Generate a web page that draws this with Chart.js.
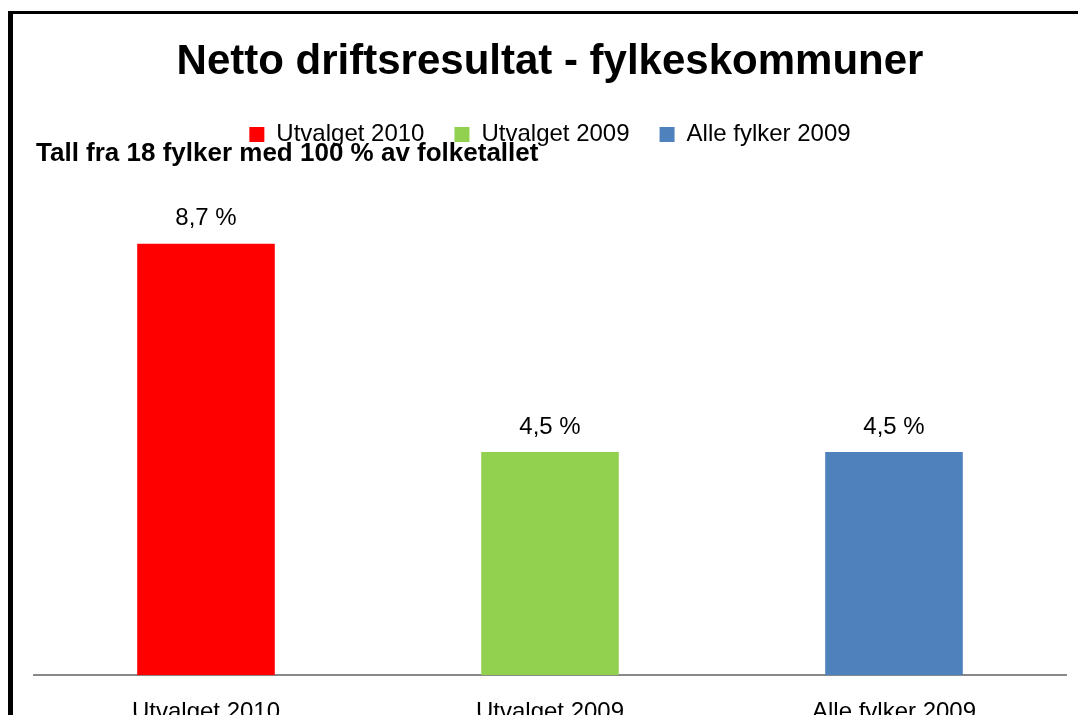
<!DOCTYPE html>
<html>
<head>
<meta charset="utf-8">
<script src="https://cdn.jsdelivr.net/npm/chart.js@4"></script>
<style>
  html, body { margin: 0; padding: 0; background: #fff; overflow: hidden; }
  .wrap { position: relative; width: 1078px; height: 715px; overflow: hidden; }
  .frame { position: absolute; left: 8px; top: 11px; width: 2000px; height: 2000px;
           border-left: 5px solid #000; border-top: 3px solid #000; pointer-events: none; }
  .sub { position: absolute; left: 36px; top: 137px; font: bold 26px "Liberation Sans Narrow", sans-serif;
         color: #000; white-space: nowrap; }
  canvas { position: absolute; left: 0; top: 0; }
</style>
</head>
<body>
<div class="wrap">
  <canvas id="chart" width="1078" height="760"></canvas>
  <div class="frame"></div>
  <div class="sub">Tall fra 18 fylker med 100 % av folketallet</div>
</div>
<script>
const categories = ['Utvalget 2010', 'Utvalget 2009', 'Alle fylker 2009'];
const values = [8.7, 4.5, 4.5];
const colors = ['#FF0000', '#92D050', '#4F81BD'];
const yTicks = [0, 2, 4, 6, 8, 10];

const FONT = '"Liberation Sans Narrow", sans-serif';

// draws "8,7 %" above each bar
const valueLabels = {
  id: 'valueLabels',
  beforeInit(chart) {
    // extra space under the legend
    const fit = chart.legend.fit;
    chart.legend.fit = function () {
      fit.call(this);
      this.height += 23;
    };
  },
  afterDatasetsDraw(chart) {
    const ctx = chart.ctx;
    const meta = chart.getDatasetMeta(0);
    ctx.save();
    ctx.font = '24px ' + FONT;
    ctx.fillStyle = '#000';
    ctx.textAlign = 'center';
    ctx.textBaseline = 'middle';
    meta.data.forEach((bar, i) => {
      const txt = values[i].toFixed(1).replace('.', ',') + ' %';
      ctx.fillText(txt, bar.x, bar.y - 25);
    });
    ctx.restore();
  }
};

new Chart(document.getElementById('chart'), {
  type: 'bar',
  data: {
    labels: categories,
    datasets: [{
      data: values,
      backgroundColor: colors,
      barPercentage: 0.4,
      categoryPercentage: 1,
    }],
  },
  options: {
    responsive: false,
    animation: false,
    layout: { padding: { top: 15, left: 34, right: 12, bottom: 18 } },
    plugins: {
      title: {
        display: true,
        text: 'Netto driftsresultat - fylkeskommuner',
        color: '#000',
        font: { family: FONT, size: 42, weight: 'bold' },
        padding: { top: 22, bottom: 5 },
      },
      legend: {
        display: true,
        labels: {
          color: '#000',
          font: { family: FONT, size: 24 },
          boxWidth: 15,
          boxHeight: 15,
          padding: 30,
          generateLabels: () => categories.map((c, i) => ({
            text: c, fillStyle: colors[i], strokeStyle: colors[i], lineWidth: 0, index: i,
          })),
        },
      },
      tooltip: { enabled: false },
    },
    scales: {
      x: {
        grid: { display: false },
        border: { color: '#888', width: 2 },
        ticks: { color: '#000', font: { family: FONT, size: 24 }, padding: 15 },
      },
      y: {
        display: false,
        min: yTicks[0],
        max: yTicks[yTicks.length - 1],
        ticks: { stepSize: 2 },
      },
    },
  },
  plugins: [valueLabels],
});
</script>
</body>
</html>
